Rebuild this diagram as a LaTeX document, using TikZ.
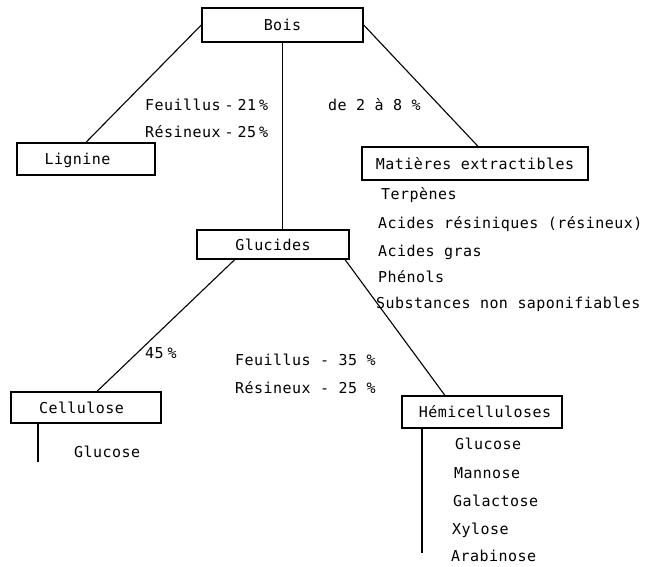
\documentclass[tikz,border=0pt]{standalone}
\usepackage{fontspec}
\setmonofont[LetterSpace=3]{DejaVu Sans Mono}
\usetikzlibrary{calc}
\begin{document}
\begin{tikzpicture}[x=1pt,y=-1pt,
  box/.style={draw,line width=1.4pt,inner sep=0pt,text height=11pt,text depth=0pt,font=\ttfamily\fontsize{15}{17}\selectfont},
  lbl/.style={anchor=base west,inner sep=0pt,font=\ttfamily\fontsize{15}{17}\selectfont},
  conn/.style={line width=1.1pt}]
\useasboundingbox (0,0) rectangle (647,566);
\node[box,minimum width=161pt,minimum height=34pt] (bois) at (282.5,25) {Bois};
\node[box,minimum width=138pt,minimum height=32pt] (lignine) at (86,159) {\hspace*{-17pt}Lignine};
\node[box,minimum width=226pt,minimum height=33pt] (matieres) at (475,163.5) {Matières extractibles};
\node[box,minimum width=152pt,minimum height=29pt] (glucides) at (273,244.5) {Glucides};
\node[box,minimum width=150pt,minimum height=31pt] (cellulose) at (86,407.5) {\hspace*{-9pt}Cellulose};
\node[box,minimum width=160pt,minimum height=32pt] (hemi) at (482,412) {\hspace*{6pt}Hémicelluloses};
% connectors
\draw[conn] (bois.west) -- (lignine.north);
\draw[conn] (bois.east) -- ($(matieres.north west)!0.513!(matieres.north east)$);
\draw[conn] (bois.south) -- (bois.south |- glucides.north);
\draw[conn] ($(glucides.south west)!0.25!(glucides.south east)$) -- ($(cellulose.north west)!0.573!(cellulose.north east)$);
\draw[conn] ($(glucides.south west)!0.97!(glucides.south east)$) -- ($(hemi.north west)!0.27!(hemi.north east)$);
\coordinate (cellend) at (38,462);
\draw[conn] (cellulose.south -| cellend) -- (cellend);
\coordinate (hemiend) at (422,553);
\draw[conn] (hemi.south -| hemiend) -- (hemiend);
% labels
\node[lbl] (f21) at (145,110) {Feuillus\hspace{4pt}-\hspace{4pt}21\hspace{3pt}\%};
\node[lbl] (r25a) at (145,137) {Résineux\hspace{4pt}-\hspace{4pt}25\hspace{3pt}\%};
\node[lbl] (de28) at (328,110) {de 2 à 8 \%};
\node[lbl] (terp) at (381,199) {Terpènes};
\node[lbl] (acres) at (378,228) {Acides résiniques (résineux)};
\node[lbl] (acgr) at (378,256) {Acides gras};
\node[lbl] (phen) at (378,282) {Phénols};
\node[lbl] (subs) at (376,308) {Substances non saponifiables};
\node[lbl] (p45) at (145,358) {45\hspace{4pt}\%};
\node[lbl] (f35) at (235,365) {Feuillus - 35 \%};
\node[lbl] (r25b) at (235,393) {Résineux - 25 \%};
\node[lbl] (cglu) at (74,457) {Glucose};
\node[lbl] (hglu) at (455,449) {Glucose};
\node[lbl] (hman) at (454,478) {Mannose};
\node[lbl] (hgal) at (453,506) {Galactose};
\node[lbl] (hxyl) at (452,534) {Xylose};
\node[lbl] (hara) at (451,561) {Arabinose};
\end{tikzpicture}
\end{document}
